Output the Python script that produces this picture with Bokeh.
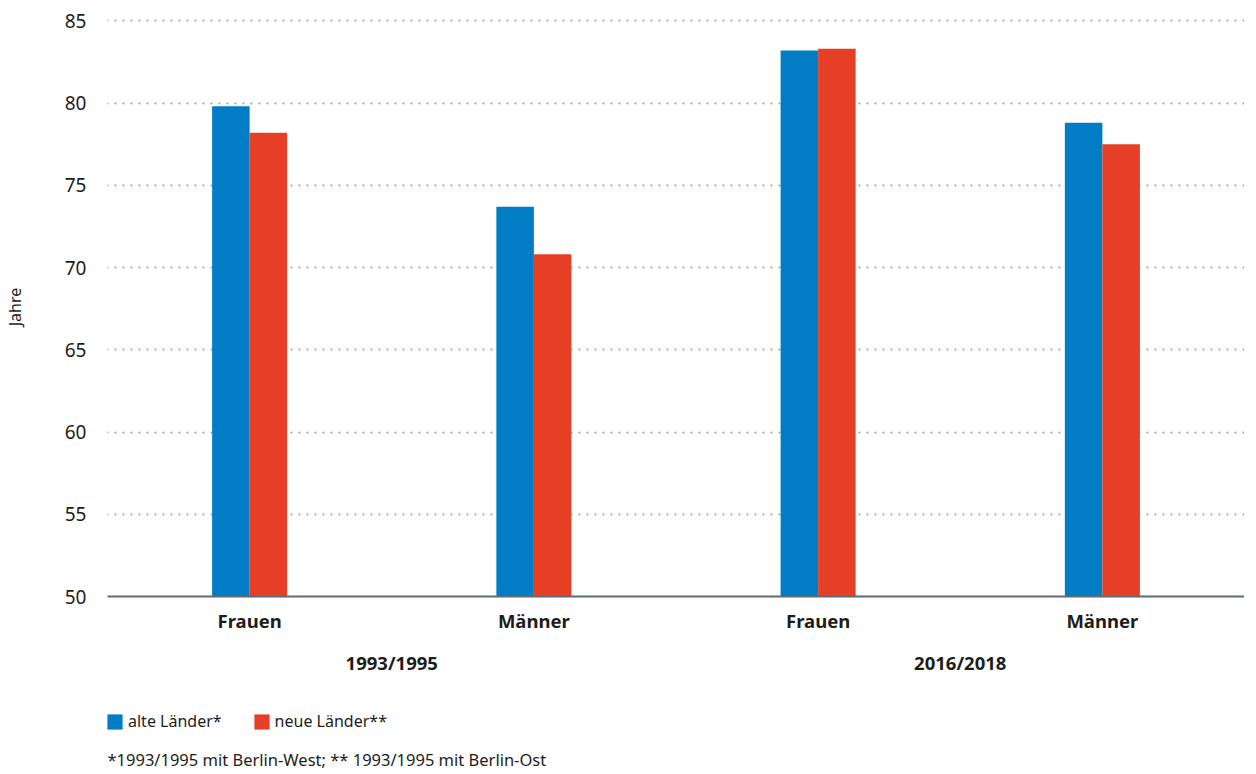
from bokeh.plotting import figure
from bokeh.layouts import column
from bokeh.models import (FactorRange, Range1d, FixedTicker, Legend, LegendItem,
                          Label, ColumnDataSource)
from bokeh.core.properties import value
from bokeh.transform import dodge
from bokeh.embed import file_html
from bokeh.resources import INLINE

# ---- data ----
groups = ["1993/1995", "2016/2018"]
years = ["1993/1995", "1993/1995", "2016/2018", "2016/2018"]
sexes = ["Frauen", "Männer", "Frauen", "Männer"]
alte_laender = [79.8, 73.7, 83.2, 78.8]
neue_laender = [78.2, 70.8, 83.3, 77.5]
y_ticks = [50, 55, 60, 65, 70, 75, 80, 85]
series_names = ["alte Länder*", "neue Länder**"]
footnote = "*1993/1995 mit Berlin-West; ** 1993/1995 mit Berlin-Ost"
y_label = "Jahre"

BLUE = "#007dc4"
RED = "#e54026"
TXT = "#1d1d1b"
FONT = "Noto Sans"
W = 1244

factors = list(zip(years, sexes))
src = ColumnDataSource(dict(x=factors, alte=alte_laender, neue=neue_laender))

xr = FactorRange(*factors, group_padding=0, factor_padding=0, range_padding=0)
p = figure(x_range=xr, y_range=Range1d(50, 85.2), width=W, height=646,
           output_backend="svg", toolbar_location=None,
           min_border_left=100, min_border_right=0, min_border_top=17,
           min_border_bottom=50, outline_line_color=None)

bw = 0.132
r1 = p.vbar(x=dodge("x", -bw / 2, range=xr), top="alte", bottom=50, width=bw,
            source=src, fill_color=BLUE, line_color=None)
r2 = p.vbar(x=dodge("x", bw / 2, range=xr), top="neue", bottom=50, width=bw,
            source=src, fill_color=RED, line_color=None)

# grid
p.xgrid.grid_line_color = None
p.ygrid.ticker = FixedTicker(ticks=y_ticks[1:])
p.ygrid.grid_line_color = "#8e9eab"
p.ygrid.grid_line_width = 2
p.ygrid.grid_line_dash = "0 8"
p.ygrid.grid_line_cap = "round"

# y axis
ya = p.yaxis[0]
ya.ticker = FixedTicker(ticks=y_ticks)
ya.axis_line_color = None
ya.major_tick_line_color = None
ya.minor_tick_line_color = None
ya.major_label_text_font = FONT
ya.major_label_text_font_size = "19px"
ya.major_label_text_color = TXT
ya.major_label_standoff = 15
ya.axis_label = y_label
ya.axis_label_text_font = FONT
ya.axis_label_text_font_size = "16px"
ya.axis_label_text_font_style = "normal"
ya.axis_label_text_color = TXT
ya.axis_label_standoff = 36

# x axis (sub-factor labels; the period labels are drawn in the strip below)
xa = p.xaxis[0]
xa.axis_line_color = "#5d6b75"
xa.axis_line_width = 2
xa.major_tick_line_color = None
xa.minor_tick_line_color = None
xa.major_label_text_font = FONT
xa.major_label_text_font_size = "18.5px"
xa.major_label_text_font_style = "bold"
xa.major_label_text_color = TXT
xa.major_label_standoff = 5
xa.group_text_font_size = "1px"
xa.group_text_alpha = 0
xa.separator_line_color = None
xa.group_label_orientation = "horizontal"

# ---- strip below: period labels, legend, footnote (frame aligned, shared x range) ----
H2 = 128
p2 = figure(width=W, height=H2, x_range=xr, y_range=Range1d(H2, 0),
            output_backend="svg", toolbar_location=None,
            min_border_left=100, min_border_right=0, min_border_top=0,
            min_border_bottom=0, outline_line_color=None)
p2.axis.visible = False
p2.grid.visible = False

gsrc = ColumnDataSource(dict(x=groups, y=[16] * len(groups), t=groups))
p2.text(x="x", y="y", text="t", source=gsrc, text_font=value(FONT),
        text_font_size="18.5px", text_font_style="bold", text_color=TXT,
        text_align="center", text_baseline="middle")

nan = float("nan")
proxy = ColumnDataSource(dict(x=[nan], top=[nan]))
l1 = p2.vbar(x="x", top="top", width=1, source=proxy, fill_color=BLUE, line_color=None)
l2 = p2.vbar(x="x", top="top", width=1, source=proxy, fill_color=RED, line_color=None)

legend = Legend(items=[LegendItem(label=series_names[0], renderers=[l1]),
                       LegendItem(label=series_names[1], renderers=[l2])],
                orientation="horizontal", location=(-2, 42),
                label_text_font=FONT, label_text_font_size="16px",
                label_text_color=TXT, glyph_width=19, glyph_height=19,
                label_standoff=4, spacing=30, padding=0, margin=0,
                border_line_color=None, background_fill_alpha=0)
p2.add_layout(legend)

fn = Label(x=0, y=15, x_units="screen", y_units="screen", text=footnote,
           text_font=FONT, text_font_size="16.5px", text_color=TXT,
           text_baseline="middle", text_align="left")
p2.add_layout(fn)

layout = column(p, p2, spacing=0)
open("out.html", "w").write(file_html(layout, INLINE))
